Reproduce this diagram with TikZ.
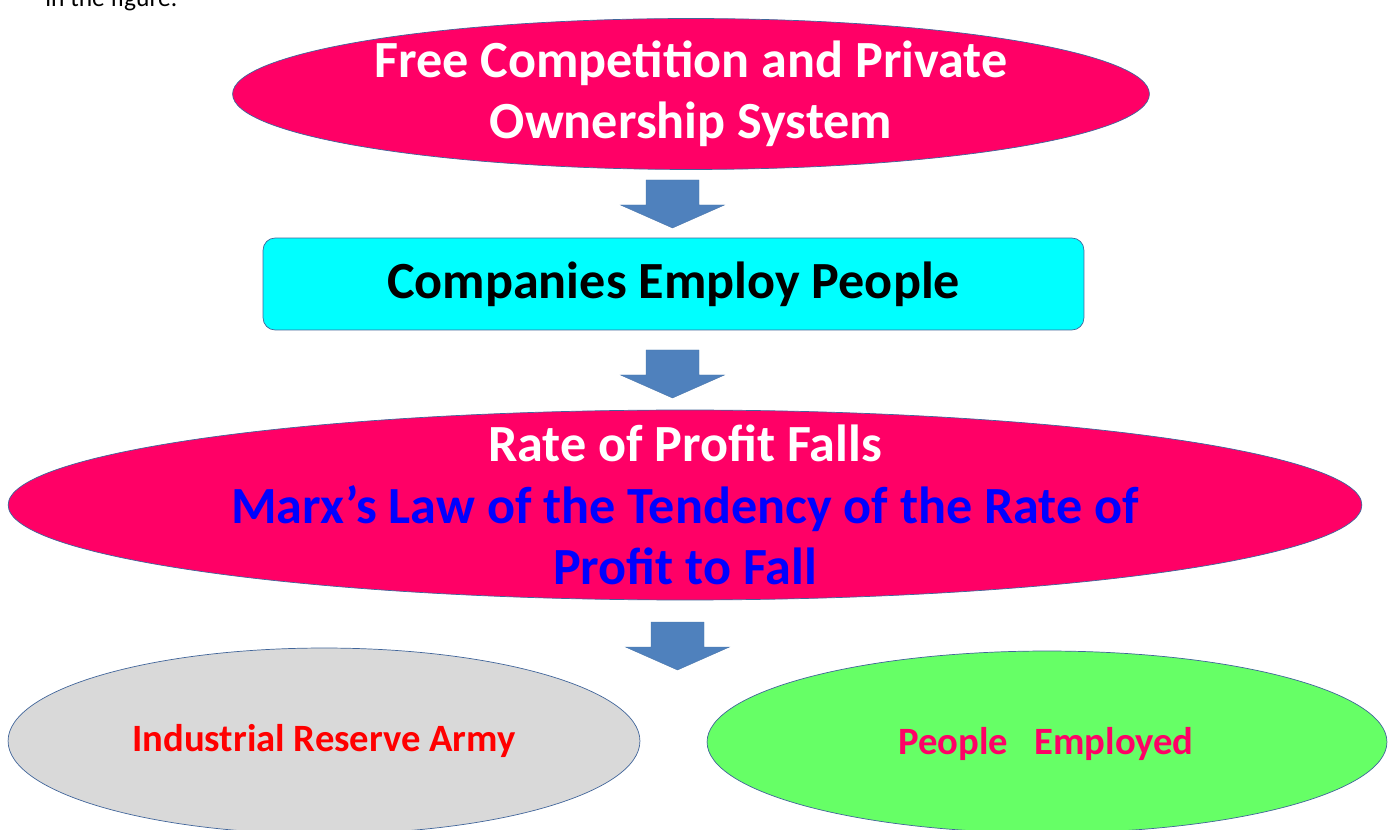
\documentclass[tikz,border=0pt]{standalone}
\usepackage{fontspec}
\setmainfont{Carlito}
\usetikzlibrary{shapes.geometric}
\definecolor{hotpink}{HTML}{FF0066}
\definecolor{marxblue}{HTML}{0000FF}
\definecolor{edgeblue}{HTML}{41659A}
\definecolor{arrowblue}{HTML}{4F81BD}
\definecolor{armygray}{HTML}{D9D9D9}
\definecolor{employgreen}{HTML}{66FF66}
\definecolor{boxcyan}{HTML}{00FFFF}
\tikzstyle{bubble}=[ellipse,draw=edgeblue,thin,inner sep=0pt]
\tikzstyle{bigtext}=[font=\fontsize{29.7}{35}\selectfont\bfseries,align=center]
\tikzstyle{smalltext}=[font=\fontsize{22}{26}\selectfont\bfseries]
\tikzstyle{blockarrow}=[fill=arrowblue,draw=arrowblue!90!black,very thin]
\newcommand{\blockarrow}[1]{%
  \draw[blockarrow] (#1) ++(-26.5,0) -- ++(53,0) -- ++(0,25) -- ++(25.5,0)
    -- ++(-52,23) -- ++(-52,-23) -- ++(25.5,0) -- cycle;}

\begin{document}
\begin{tikzpicture}[x=0.02cm,y=-0.02cm]
  \path[use as bounding box] (0,0) rectangle (1392,830);
  \clip (0,0) rectangle (1392,830);
  % cut-off line above the chart
  \node[font=\fontsize{14.5}{17}\selectfont,anchor=base west,inner sep=0pt] (intro) at (45,7) {in the figure.};
  % top
  \node[bubble,fill=hotpink,minimum width=18.34cm,minimum height=3.02cm] (free) at (691,94) {};
  \node[bigtext,white] (freetext) at (free) {Free Competition and Private\\Ownership System};
  \coordinate (a1) at (672.5,180);
  \blockarrow{a1}
  \node[bigtext,draw=edgeblue,fill=boxcyan,rounded corners=0.24cm,
    minimum width=16.42cm,minimum height=1.84cm] (employ) at (673.5,284) {Companies Employ People};
  \coordinate (a2) at (672.5,350);
  \blockarrow{a2}
  % falling rate
  \node[bubble,fill=hotpink,minimum width=27.08cm,minimum height=3.8cm] (fall) at (685,505) {};
  \node[bigtext,marxblue] (falltext) at (fall) {\textcolor{white}{Rate of Profit Falls}\\Marx’s Law of the Tendency of the Rate of\\Profit to Fall};
  \coordinate (a3) at (677.5,622);
  \blockarrow{a3}
  % bottom
  \node[bubble,fill=armygray,minimum width=12.64cm,minimum height=3.72cm] (army) at (324,741) {};
  \node[smalltext,red] (armytext) at (army) {Industrial Reserve Army};
  \node[bubble,fill=employgreen,minimum width=13.6cm,minimum height=3.64cm] (people) at (1047,742) {};
  \node[smalltext,hotpink] (peopletext) at (1046,744) {People\ \ \ Employed};
\end{tikzpicture}
\end{document}
